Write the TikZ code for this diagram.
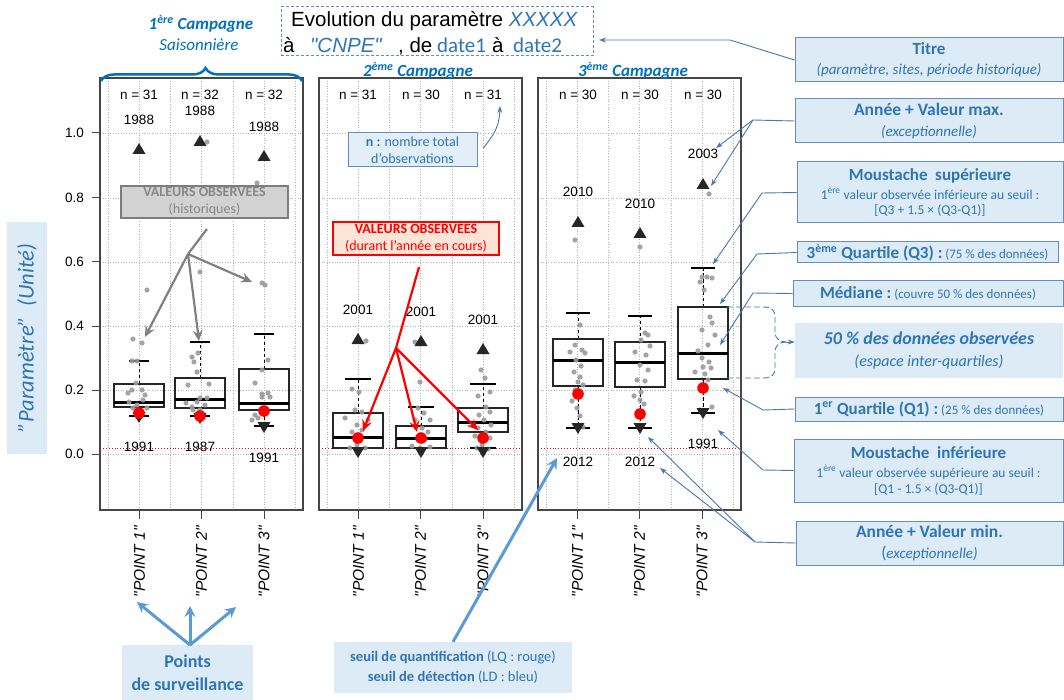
\documentclass[tikz,border=0pt]{standalone}
\usepackage{fontspec}
\setmainfont{Carlito}
\newfontfamily\arial{Liberation Sans}
\usetikzlibrary{arrows.meta,decorations.pathreplacing}
\definecolor{cblue}{RGB}{46,117,182}
\definecolor{cfill}{RGB}{221,235,247}
\definecolor{cbord}{RGB}{100,140,188}
\definecolor{cline}{RGB}{72,120,176}
\definecolor{lblue}{RGB}{91,155,213}
\definecolor{brblue}{RGB}{0,112,192}
\definecolor{framec}{RGB}{70,70,70}
\definecolor{dotc}{RGB}{155,155,155}
\definecolor{histfill}{RGB}{210,210,210}
\definecolor{histbord}{RGB}{125,125,125}
\definecolor{histtxt}{RGB}{135,135,135}
\definecolor{curfill}{RGB}{252,228,214}
\definecolor{grayarr}{RGB}{128,128,128}
\newcommand{\fsz}[2]{\fontsize{#1}{#2}\selectfont}
\newcommand{\upT}[2]{\fill[black!85] (#1-6.5,#2+5) -- (#1+6.5,#2+5) -- (#1,#2-6) -- cycle;}
\newcommand{\dnT}[2]{\fill[black!85] (#1-6.5,#2-5) -- (#1+6.5,#2-5) -- (#1,#2+6) -- cycle;}
\newcommand{\rdot}[2]{\fill[red] (#1,#2) circle (5.8);}
\newcommand{\bxp}[7]{%
  \draw[whisk] (#1,#3) -- (#1,#6);
  \draw[whisk] (#1,#5) -- (#1,#7);
  \draw[capline] (#1-#2,#6) -- (#1+#2,#6);
  \draw[capline] (#1-#2,#7) -- (#1+#2,#7);
  \draw[boxline] (#1-25,#3) rectangle (#1+25,#5);
  \draw[medline] (#1-25,#4) -- (#1+25,#4);}
\newcommand{\panelbg}[1]{%
  \foreach \gx in {8,39.5,70.5,101.5,133,164,195} \draw[gridl] (#1+\gx,78) -- (#1+\gx,510);
  \foreach \gy in {454,390,326,262,198,133} \draw[gridl] (#1,\gy) -- (#1+203,\gy);
  \draw[red,dotted,line width=0.9pt] (#1,448) -- (#1+203,448);
  \foreach \gx in {39.5,101.5,164} \draw[line width=1pt,framec] (#1+\gx,510) -- (#1+\gx,519);
  \draw[frm] (#1,78) rectangle (#1+203,510);}
\begin{document}
\begin{tikzpicture}[x=1pt,y=-1pt,
 callout/.style={draw=cbord,fill=cfill,line width=1pt,text=cblue,align=center,inner sep=0pt},
 calloutnb/.style={fill=cfill,text=cblue,align=center,inner sep=0pt},
 gridl/.style={draw=black!30,dotted,line width=0.6pt},
 frm/.style={draw=framec,line width=1.3pt},
 whisk/.style={line width=1pt,dash pattern=on 3.5pt off 2.5pt},
 capline/.style={line width=1.3pt},
 boxline/.style={line width=1.3pt,draw=black!85},
 medline/.style={line width=3pt},
 ptxt/.style={font=\arial\fsz{13.5}{16},inner sep=0pt},
 ptlab/.style={rotate=90,anchor=east,font=\arial\itshape\fsz{15.5}{18},inner sep=0pt},
 conn/.style={draw=cline,line width=0.9pt},
 carrow/.style={conn,-{Stealth[length=7pt,width=5pt]}},
 garrow/.style={draw=grayarr,line width=2.2pt,-{Stealth[length=11pt,width=10pt,inset=4pt]}},
 rarrow/.style={draw=red,line width=2.2pt,-{Stealth[length=11pt,width=10pt,inset=4pt]}},
 barrow/.style={draw=lblue,line width=3pt,-{Stealth[length=11pt,width=11pt,inset=4pt]}},
 camp/.style={text=brblue,font=\bfseries\itshape\fsz{17}{20},inner sep=0pt},
 dotp/.style={fill=dotc,opacity=0.9}
]
\fill[white] (0,0) rectangle (1064,700);
\useasboundingbox (0,0) rectangle (1064,700);

% ---------- panels ----------
\panelbg{100}
\panelbg{319}
\panelbg{538}

% y axis
\foreach \v/\yy in {1.0/133,0.8/198,0.6/262,0.4/326,0.2/390,0.0/454}{
  \draw[line width=1pt,framec] (92,\yy) -- (100,\yy);
  \node[ptxt,anchor=east] (yl\yy) at (84,\yy) {\v};
}

% ---------- box plots ----------
\bxp{139}{10}{384}{402}{407}{361}{416}
\bxp{200}{10}{378}{399}{408}{342}{416}
\bxp{264}{10}{369}{403}{410}{334}{426}
\bxp{358}{13}{413}{437}{448}{379}{448}
\bxp{421}{13}{426}{438}{448}{407}{448}
\bxp{483}{13}{408}{422}{432}{384}{448}
\bxp{578}{12}{339}{360}{386}{313}{428}
\bxp{640}{12}{342}{362}{387}{316}{428}
\bxp{703}{12}{307}{353}{379}{268}{413}

% observed points
\foreach \x/\y in {147/290,133/339,142/343,132/361,137/361,136/383,128/393,132/390,142/390,143/400,137/405,133/408,147/408,140/411,129/402,145/395,
 200/272,207/142,198/353,192/357,194/362,197/372,188/385,209/384,200/398,197/402,192/407,205/405,207/398,193/410,200/410,186/403,
 257/183,262/283,265/285,268/360,262/370,255/383,262/394,268/393,262/397,270/397,255/415,258/418,264/410,252/420}
  \fill[dotp] (\x,\y) circle (2.6);
\foreach \x/\y in {366/341,352/389,359/392,355/410,345/418,362/412,368/420,357/425,352/432,362/430,350/448,365/448,357/445,360/450,
 415/342,420/382,418/408,424/413,430/420,415/420,422/428,428/432,418/438,425/440,412/446,430/447,420/448,
 481/370,485/378,490/392,478/396,486/407,490/412,479/415,484/420,491/425,478/428,486/432,475/436,490/438,482/445,477/448,488/449}
  \fill[dotp] (\x,\y) circle (2.6);
\foreach \x/\y in {575/240,580/325,575/345,582/350,570/352,585/353,576/360,581/366,574/372,580/377,578/382,583/385,575/390,572/401,577/408,580/416,583/427,
 640/247,645/333,648/335,641/340,650/346,646/355,635/352,640/365,648/370,637/380,645/381,641/392,634/396,640/400,644/404,
 709/194,702/277,707/277,712/278,700/282,704/290,710/317,712/323,702/330,715/335,708/345,698/351,702/358,709/362,703/367,711/368,695/372,705/374,708/380,712/407,700/410}
  \fill[dotp] (\x,\y) circle (2.6);

% extremes
\upT{139}{149}\upT{200}{141}\upT{264}{156}
\upT{358}{339}\upT{421}{341}\upT{483}{349}
\upT{578}{222}\upT{640}{233}\upT{703}{184}
\dnT{139}{417}\dnT{200}{418}\dnT{264}{427}
\dnT{358}{452}\dnT{421}{452}\dnT{483}{452}
\dnT{578}{428}\dnT{640}{428}\dnT{703}{413}
\rdot{139}{413}\rdot{200}{416}\rdot{264}{411}
\rdot{358}{438}\rdot{421}{438}\rdot{483}{438}
\rdot{578}{394}\rdot{640}{414}\rdot{703}{388}

% n labels
\node[ptxt] (n11) at (139,95) {n = 31};
\node[ptxt] (n12) at (200,95) {n = 32};
\node[ptxt] (n13) at (264,95) {n = 32};
\node[ptxt] (n21) at (358,95) {n = 31};
\node[ptxt] (n22) at (421,95) {n = 30};
\node[ptxt] (n23) at (483,95) {n = 31};
\node[ptxt] (n31) at (578,95) {n = 30};
\node[ptxt] (n32) at (640,95) {n = 30};
\node[ptxt] (n33) at (703,95) {n = 30};
% years
\node[ptxt] (ya11) at (139,120) {1988};
\node[ptxt] (ya12) at (200,111) {1988};
\node[ptxt] (ya13) at (264,127) {1988};
\node[ptxt] (yb11) at (139,447) {1991};
\node[ptxt] (yb12) at (200,447) {1987};
\node[ptxt] (yb13) at (264,458) {1991};
\node[ptxt] (ya21) at (358,310) {2001};
\node[ptxt] (ya22) at (421,312) {2001};
\node[ptxt] (ya23) at (483,320) {2001};
\node[ptxt] (ya31) at (578,192) {2010};
\node[ptxt] (ya32) at (640,204) {2010};
\node[ptxt] (ya33) at (703,154) {2003};
\node[ptxt] (yb31) at (578,462) {2012};
\node[ptxt] (yb32) at (640,462) {2012};
\node[ptxt] (yb33) at (703,444) {1991};

% point labels
\foreach \L/\P in {100/1,319/2,538/3}{
  \foreach \k/\o in {1/39.5,2/101.5,3/164}
    \node[ptlab] (pt\P\k) at (\L+\o,526) {"POINT \k"};
}

% ---------- titles ----------
\node[camp] (c1) at (201,24) {1\textsuperscript{ère} Campagne};
\node[text=brblue,font=\itshape\fsz{17}{20},inner sep=0pt] (c1b) at (199,45) {Saisonnière};
\node[camp] (c2) at (418,71) {2\textsuperscript{ème} Campagne};
\node[camp] (c3) at (633,71) {3\textsuperscript{ème} Campagne};
\draw[brblue,line width=2.5pt,decorate,decoration={brace,amplitude=13pt,aspect=0.52}] (101,81) -- (302,81);

\node[draw=cbord,line width=1pt,dash pattern=on 3pt off 2pt,minimum width=312,minimum height=49,inner sep=0pt] (tbox) at (437,31.5) {};
\node[anchor=base west,font=\arial\fsz{20.5}{24},inner sep=0pt] (t1) at (291,27) {Evolution du paramètre \textcolor{cblue}{\itshape XXXXX}};
\node[anchor=base west,font=\arial\fsz{20.5}{24},inner sep=0pt] (t2a) at (283,53) {à};
\node[anchor=base west,font=\arial\itshape\fsz{20.5}{24},text=cblue,inner sep=0pt] (t2b) at (310,53) {"CNPE"};
\node[anchor=base west,font=\arial\fsz{20.5}{24},inner sep=0pt] (t2c) at (398,53) {, de};
\node[anchor=base west,font=\fsz{21}{24},text=cblue,inner sep=0pt] (t2d) at (437,53) {date1};
\node[anchor=base west,font=\arial\fsz{20.5}{24},inner sep=0pt] (t2e) at (492,53) {à};
\node[anchor=base west,font=\fsz{21}{24},text=cblue,inner sep=0pt] (t2f) at (513,53) {date2};

% y axis title
\node[fill=cfill,text=cblue,rotate=90,minimum width=231,minimum height=40,inner sep=0pt,font=\itshape\fsz{22.5}{26}] (ytit) at (27,338) {"Paramètre"\ \ (Unité)};

% ---------- right callouts ----------
\node[callout,minimum width=268,minimum height=44,font=\fsz{15}{20}] (titre) at (929,60)
  {{\fsz{17}{20}\bfseries Titre}\\{\fsz{15}{18}\itshape (paramètre, sites, période historique)}};
\node[callout,minimum width=268,minimum height=44,font=\fsz{15}{20.5}] (amax) at (929,121)
  {{\fsz{17.5}{21}\bfseries Année + Valeur max.}\\{\fsz{15}{18}\itshape (exceptionnelle)}};
\node[callout,minimum width=266,minimum height=61,font=\fsz{13.5}{15.5}] (msup) at (930,192.5)
  {{\fsz{17}{20}\bfseries Moustache\ \ supérieure}\\[3pt]{1\textsuperscript{ère} valeur observée inférieure au seuil :}\\{[Q3 + 1.5 × (Q3-Q1)]}};
\node[callout,minimum width=261,minimum height=21] (q3) at (927.5,252.5)
  {{\fsz{17}{20}\bfseries 3\textsuperscript{ème} Quartile (Q3) :} {\fsz{13}{15}(75 \% des données)}};
\node[callout,minimum width=270,minimum height=25] (med) at (928,293.5)
  {{\fsz{17}{20}\bfseries Médiane\ :} {\fsz{13}{15}(couvre 50 \% des données)}};
\node[calloutnb,minimum width=268,minimum height=55,font=\fsz{16}{22}] (p50) at (929,350.5)
  {{\fsz{18}{21}\bfseries\itshape 50 \% des données observées}\\{\fsz{16}{19}\itshape (espace inter-quartiles)}};
\node[callout,minimum width=268,minimum height=24] (q1) at (929,409)
  {{\fsz{17}{20}\bfseries 1\textsuperscript{er} Quartile (Q1) :} {\fsz{13}{15}(25 \% des données)}};
\node[callout,minimum width=269,minimum height=63,font=\fsz{13.5}{16}] (minf) at (928.5,470.5)
  {{\fsz{17}{20}\bfseries Moustache\ \ inférieure}\\[3pt]{1\textsuperscript{ère} valeur observée supérieure au seuil :}\\{[Q1 - 1.5 × (Q3-Q1)]}};
\node[callout,minimum width=267,minimum height=44,font=\fsz{15}{21}] (amin) at (929.5,543)
  {{\fsz{17.5}{21}\bfseries Année + Valeur min.}\\{\fsz{17}{19}(}{\fsz{15}{18}\itshape exceptionnelle)}};

% ---------- inner callouts ----------
\node[callout,fill=cfill!85!white,minimum width=129,minimum height=34,font=\fsz{14}{16.5}] (nbox) at (412.5,150)
  {\textbf{n :} nombre total\\d'observations};
\node[draw=histbord,fill=histfill,line width=2pt,text=histtxt,align=center,inner sep=0pt,minimum width=167,minimum height=32,font=\fsz{14}{17}] (hist) at (204.5,202)
  {\textbf{VALEURS OBSERVEES}\\(historiques)};
\node[draw=red,fill=curfill,line width=2pt,text=red,align=center,inner sep=0pt,minimum width=166,minimum height=33,font=\fsz{14}{17}] (cur) at (416,238.5)
  {\textbf{VALEURS OBSERVEES}\\(durant l'année en cours)};

% ---------- bottom callouts ----------
\node[calloutnb,minimum width=131,minimum height=55,font=\bfseries\fsz{18}{23}] (pts) at (187.5,672.5) {Points\\de surveillance};
\node[calloutnb,minimum width=238,minimum height=51,font=\fsz{14.5}{20}] (seuil) at (453,667.5)
  {\textbf{seuil de quantification}\ (LQ : rouge)\\\textbf{seuil de détection}\ (LD : bleu)};

% ---------- connectors ----------
\coordinate (tA) at (730,40);
\coordinate (tT) at (599,40);
\draw[carrow] (titre.west) -- (tA) -- (tT);

\coordinate (mxP) at (753,120);
\coordinate (mxTri) at (711,186);
\coordinate (mxYr) at (716,148);
\draw[conn] (amax.west) -- (mxP);
\draw[carrow] (mxP) -- (mxTri);
\draw[carrow] (mxP) -- (mxYr);

\coordinate (msP) at (762,193);
\coordinate (msT) at (713,264);
\draw[carrow] (msup.west) -- (msP) -- (msT);

\coordinate (q3P) at (757,254);
\coordinate (q3T) at (720,304);
\draw[carrow] (q3.west) -- (q3P) -- (q3T);

\coordinate (mdP) at (753,293);
\coordinate (mdT) at (720,345);
\draw[carrow] (med.west) -- (mdP) -- (mdT);

\coordinate (q1P) at (763,410);
\coordinate (q1T) at (723,388);
\draw[carrow] (q1.west) -- (q1P) -- (q1T);

\coordinate (miP) at (763,470);
\coordinate (miT) at (718,430);
\draw[carrow] (minf.west) -- (miP) -- (miT);

\coordinate (mnP) at (755,542);
\coordinate (mnTri) at (648,437);
\coordinate (mnYr) at (660,468);
\draw[conn] (amin.west) -- (mnP);
\draw[carrow] (mnP) -- (mnTri);
\draw[carrow] (mnP) -- (mnYr);

% 50% brace
\coordinate (b50) at (786,342);
\draw[conn,dash pattern=on 6pt off 3pt] (727,307) -- (763,307) .. controls (772,307) and (775,310) .. (775,318) -- (775,332) .. controls (775,338) and (779,342) .. (b50);
\draw[conn,dash pattern=on 6pt off 3pt] (727,378) -- (763,378) .. controls (772,378) and (775,375) .. (775,367) -- (775,352) .. controls (775,346) and (779,342) .. (b50);
\draw[carrow] (b50) -- (p50.west |- b50);

% n box arrow
\coordinate (nT) at (500,106);
\draw[carrow] (nbox.east) ++(6,-2) coordinate (nS) (nS) .. controls (492,136) and (499,130) .. (nT);

% gray arrows
\coordinate (gS) at (207,229);
\coordinate (gJ) at (188,254);
\coordinate (g1) at (145,337);
\coordinate (g2) at (199,341);
\coordinate (g3) at (252,282);
\draw[draw=grayarr,line width=2.2pt] (gS) -- (gJ);
\draw[garrow] (gJ) -- (g1);
\draw[garrow] (gJ) -- (g2);
\draw[garrow] (gJ) -- (g3);

% red arrows
\coordinate (rS) at (419,267);
\coordinate (rJ) at (396,348);
\coordinate (r1) at (363,431);
\coordinate (r2) at (417,432);
\coordinate (r3) at (478,430);
\draw[draw=red,line width=2.2pt] (rS) -- (rJ);
\draw[rarrow] (rJ) -- (r1);
\draw[rarrow] (rJ) -- (r2);
\draw[rarrow] (rJ) -- (r3);

% blue bottom arrows
\coordinate (pO) at (190,645);
\coordinate (pa1) at (137,602);
\coordinate (pa2) at (190,606);
\coordinate (pa3) at (236,607);
\draw[barrow] (pO) -- (pa1);
\draw[barrow] (pO) -- (pa2);
\draw[barrow] (pO) -- (pa3);
\coordinate (sT) at (557,458);
\draw[barrow] (seuil.north) -- (sT);
\end{tikzpicture}
\end{document}
